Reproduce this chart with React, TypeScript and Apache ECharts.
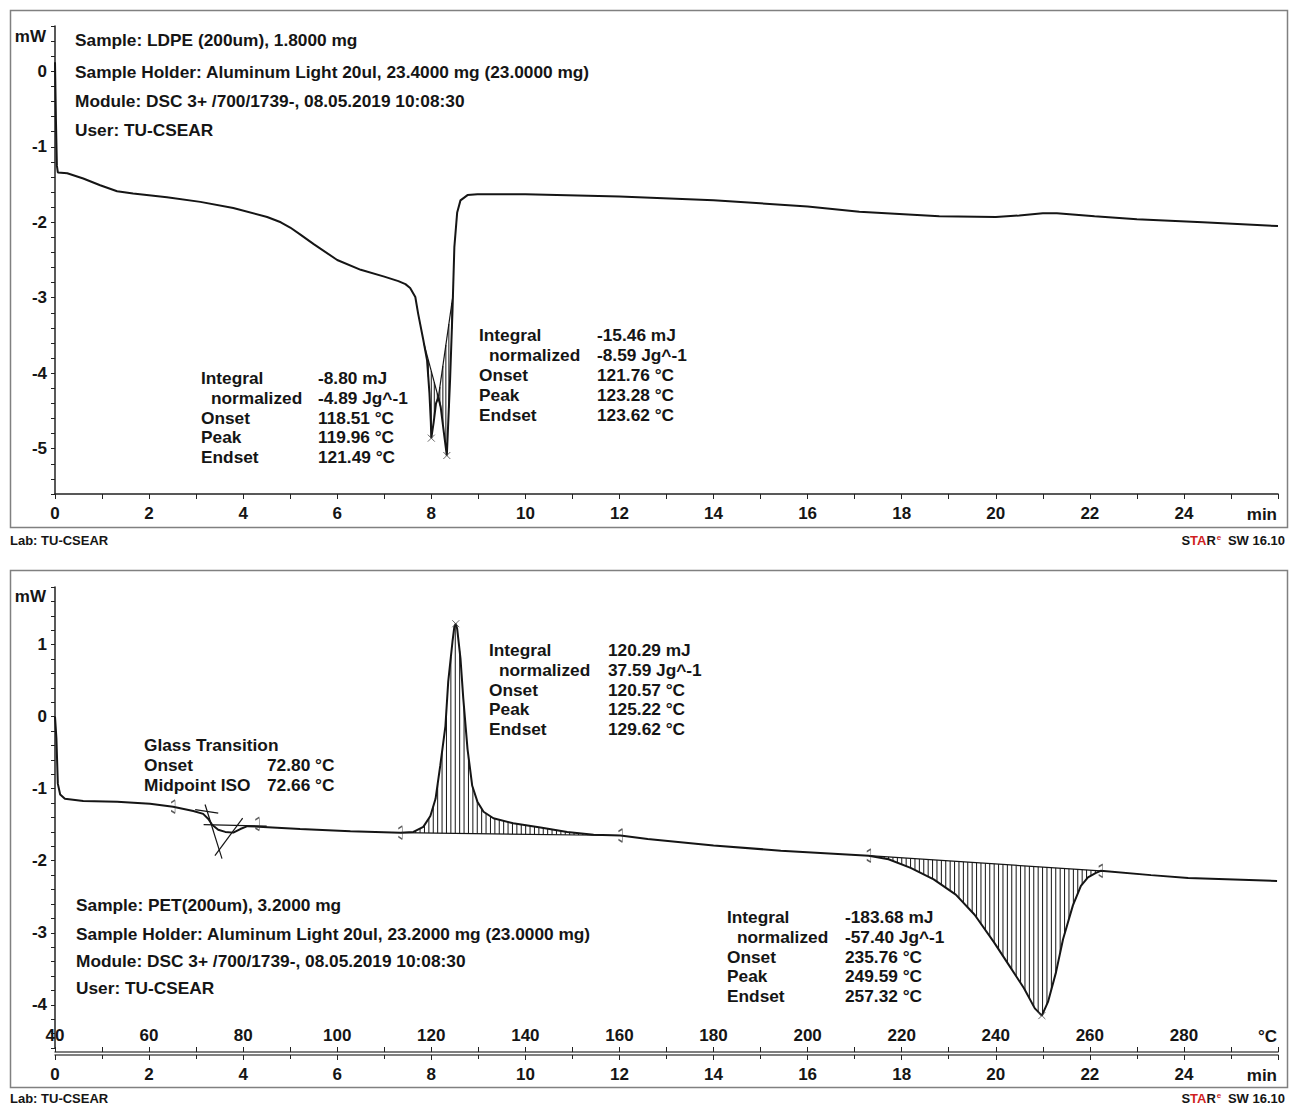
import React, { useEffect, useRef } from "react";
import * as echarts from "echarts";

// ---------- Top panel: LDPE, heat flow (mW) vs time (min) ----------
const ldpeTime = [0, 0.02, 0.04, 0.06, 0.26, 0.6, 0.96, 1.32, 1.66, 2.38, 3.09, 3.79, 4.51, 4.8, 5.0, 5.21, 5.5, 6.0, 6.5, 7.0, 7.3, 7.45, 7.55, 7.66, 7.72, 7.83, 7.91, 7.96, 7.99, 8.0, 8.05, 8.1, 8.15, 8.2, 8.27, 8.33, 8.4, 8.45, 8.49, 8.55, 8.62, 8.77, 8.98, 10, 12, 14, 16, 17.1, 18.8, 20, 20.5, 21, 21.3, 22.1, 23, 24.4, 26];
const ldpeMw = [0.12, -0.65, -1.25, -1.34, -1.35, -1.42, -1.51, -1.59, -1.62, -1.67, -1.73, -1.81, -1.93, -2.0, -2.07, -2.16, -2.29, -2.5, -2.63, -2.72, -2.78, -2.82, -2.87, -2.99, -3.21, -3.56, -3.83, -4.26, -4.65, -4.86, -4.65, -4.4, -4.32, -4.45, -4.8, -5.09, -4.07, -3.18, -2.33, -1.87, -1.71, -1.64, -1.63, -1.63, -1.66, -1.71, -1.79, -1.86, -1.92, -1.93, -1.91, -1.88, -1.88, -1.92, -1.96, -2.0, -2.05];
// integration baselines [t0, y0, t1, y1]
const ldpeBaselines = [
  [7.84, -3.6, 8.2, -4.44],
  [8.15, -4.32, 8.46, -2.97],
];
const ldpePeaks = [[8.0, -4.86], [8.33, -5.09]];

// ---------- Bottom panel: PET, heat flow (mW) vs temperature (°C) ----------
const petTemp = [40.0, 40.3, 40.6, 41.1, 42.1, 46.0, 53.2, 60.2, 65.1, 69.4, 71.5, 72.6, 73.4, 74.7, 76.2, 77.9, 79.4, 80.9, 92.1, 102.8, 113.4, 116.2, 118.3, 119.8, 120.9, 121.9, 123.0, 123.6, 124.5, 124.9, 125.2, 125.5, 126.2, 126.8, 127.7, 128.7, 129.8, 131.1, 133.2, 137.4, 143.2, 148.9, 154.5, 160.2, 166.0, 180.0, 194.3, 213.0, 217.2, 221.9, 226.8, 231.5, 235.5, 239.6, 242.8, 246.0, 248.3, 249.8, 251.1, 252.8, 254.3, 256.4, 258.1, 259.6, 261.3, 262.3, 273.0, 280.9, 299.8];
const petMw = [0, -0.3, -0.93, -1.08, -1.14, -1.17, -1.18, -1.21, -1.25, -1.31, -1.35, -1.42, -1.5, -1.57, -1.6, -1.61, -1.56, -1.52, -1.56, -1.59, -1.61, -1.6, -1.53, -1.38, -1.14, -0.68, -0.13, 0.49, 1.04, 1.25, 1.29, 1.22, 0.81, 0.25, -0.45, -0.96, -1.18, -1.32, -1.41, -1.48, -1.54, -1.6, -1.64, -1.65, -1.7, -1.79, -1.86, -1.93, -1.98, -2.1, -2.26, -2.47, -2.75, -3.13, -3.45, -3.77, -4.05, -4.15, -3.96, -3.55, -3.09, -2.62, -2.35, -2.23, -2.17, -2.14, -2.2, -2.24, -2.28];
const petBaselines = [
  [113.4, -1.61, 160.2, -1.65],
  [213.0, -1.93, 262.3, -2.14],
];
const petPeaks = [[125.2, 1.29], [249.8, -4.15]];
const petLimits = [[65.1, -1.25], [83.0, -1.49], [113.4, -1.61], [160.2, -1.65], [213.0, -1.93], [262.3, -2.14]];
// glass transition construction lines [T0, y0, T1, y1]
const glassLines = [
  [69.8, -1.29, 74.7, -1.34],
  [71.9, -1.22, 75.5, -1.97],
  [74.0, -1.93, 79.9, -1.41],
  [71.6, -1.5, 85.0, -1.52],
];

// ---------- Texts ----------
const headerTop = [
  "Sample: LDPE (200um), 1.8000 mg",
  "Sample Holder: Aluminum Light 20ul, 23.4000 mg (23.0000 mg)",
  "Module: DSC 3+ /700/1739-, 08.05.2019 10:08:30",
  "User: TU-CSEAR",
];
const headerBottom = [
  "Sample: PET(200um), 3.2000 mg",
  "Sample Holder: Aluminum Light 20ul, 23.2000 mg (23.0000 mg)",
  "Module: DSC 3+ /700/1739-, 08.05.2019 10:08:30",
  "User: TU-CSEAR",
];
const evalLabels = ["Integral", "normalized", "Onset", "Peak", "Endset"];
const evalA = ["-8.80 mJ", "-4.89 Jg^-1", "118.51 °C", "119.96 °C", "121.49 °C"];
const evalB = ["-15.46 mJ", "-8.59 Jg^-1", "121.76 °C", "123.28 °C", "123.62 °C"];
const evalC = ["120.29 mJ", "37.59 Jg^-1", "120.57 °C", "125.22 °C", "129.62 °C"];
const evalD = ["-183.68 mJ", "-57.40 Jg^-1", "235.76 °C", "249.59 °C", "257.32 °C"];
const glassLabels = ["Glass Transition", "Onset", "Midpoint ISO"];
const glassValues = ["", "72.80 °C", "72.66 °C"];

const FF = "'Liberation Sans', Arial, sans-serif";
const INK = "#151515";
const TS = 17.3;

function txt(text: string, x: number, y: number, size = TS, align = "left", weight = "bold", fill = INK) {
  return {
    type: "text",
    x,
    y,
    silent: true,
    style: {
      text,
      font: `${weight} ${size}px ${FF}`,
      fill,
      textAlign: align,
      align,
      textVerticalAlign: "middle",
      verticalAlign: "middle",
    },
  };
}

function evalBlock(values: string[], xl: number, xv: number, y0: number, dy: number) {
  const out: any[] = [];
  evalLabels.forEach((l, i) => {
    out.push(txt(l, i === 1 ? xl + 10 : xl, y0 + i * dy));
    out.push(txt(values[i], xv, y0 + i * dy));
  });
  return out;
}

function hatch(xs: number[], ys: number[], step: number) {
  return (params: any, api: any) => {
    const x0 = api.value(0), b0 = api.value(1), x1 = api.value(2), b1 = api.value(3);
    const pts = xs.map((x, i) => api.coord([x, ys[i]]));
    const p0 = api.coord([x0, b0]);
    const p1 = api.coord([x1, b1]);
    const children: any[] = [];
    for (let px = p0[0] + step / 2; px < p1[0]; px += step) {
      let cy: number | null = null;
      for (let i = 0; i < pts.length - 1; i++) {
        if (pts[i][0] <= px && pts[i + 1][0] >= px) {
          const d = pts[i + 1][0] - pts[i][0] || 1;
          cy = pts[i][1] + ((px - pts[i][0]) / d) * (pts[i + 1][1] - pts[i][1]);
          break;
        }
      }
      const by = p0[1] + ((px - p0[0]) / (p1[0] - p0[0])) * (p1[1] - p0[1]);
      if (cy !== null) {
        children.push({
          type: "line",
          shape: { x1: px, y1: by, x2: px, y2: cy },
          style: { stroke: INK, lineWidth: 1 },
        });
      }
    }
    return { type: "group", children };
  };
}

const axisLineStyle = { show: true, onZero: false, lineStyle: { color: "#222", width: 1.5 } };
const tickStyle = { lineStyle: { color: "#222", width: 1 } };
const labelFont = { fontFamily: FF, fontWeight: "bold", fontSize: 17, color: INK };
const intLabel = (v: number) => (Math.abs(v - Math.round(v)) < 1e-6 ? String(Math.round(v)) : "");

const crossPath = "path://M0,0L10,10M10,0L0,10";
const flagPath = "path://M3,0L3,16M0,3L3,0M0,13L3,16";

function segSeries(segs: number[][], xi: number, yi: number) {
  return segs.map((s) => ({
    type: "line",
    xAxisIndex: xi,
    yAxisIndex: yi,
    data: [[s[0], s[1]], [s[2], s[3]]],
    symbol: "none",
    silent: true,
    lineStyle: { color: INK, width: 1.2 },
    z: 4,
  }));
}

function buildOption() {
  const graphics: any[] = [
    { type: "rect", shape: { x: 10.5, y: 10.5, width: 1277, height: 517 }, style: { fill: "none", stroke: "#808080", lineWidth: 1.5 }, silent: true },
    { type: "rect", shape: { x: 10.5, y: 570.5, width: 1277, height: 517 }, style: { fill: "none", stroke: "#808080", lineWidth: 1.5 }, silent: true },
    txt("mW", 46, 36, 17, "right"),
    txt("mW", 46, 596, 17, "right"),
    txt("min", 1277, 514, 17, "right"),
    txt("min", 1277, 1075, 17, "right"),
    txt("°C", 1277, 1036, 17, "right"),
    txt("Lab: TU-CSEAR", 10, 540, 13, "left"),
    txt("Lab: TU-CSEAR", 10, 1098, 13, "left"),
  ];
  [540, 1098].forEach((y) => {
    graphics.push({
      type: "text",
      x: 1285,
      y,
      silent: true,
      style: {
        text: "{b|S}{r|TA}{b|R}{e|e}{b| SW 16.10}",
        textAlign: "right",
        align: "right",
        textVerticalAlign: "middle",
        verticalAlign: "middle",
        rich: {
          b: { font: `bold 13px ${FF}`, fill: INK },
          r: { font: `bold 13px ${FF}`, fill: "#d01f1f" },
          e: { font: `bold 8px ${FF}`, fill: "#d01f1f", padding: [0, 3, 6, 1] },
        },
      },
    });
  });
  const topY = [40, 72, 101, 130];
  headerTop.forEach((h, i) => graphics.push(txt(h, 75, topY[i])));
  const botY = [905, 934, 961, 988];
  headerBottom.forEach((h, i) => graphics.push(txt(h, 76, botY[i])));
  graphics.push(...evalBlock(evalA, 201, 318, 378, 19.75));
  graphics.push(...evalBlock(evalB, 479, 597, 335, 20));
  graphics.push(...evalBlock(evalC, 489, 608, 650, 19.75));
  graphics.push(...evalBlock(evalD, 727, 845, 917, 19.75));
  glassLabels.forEach((l, i) => {
    graphics.push(txt(l, 144, 745 + i * 20));
    if (glassValues[i]) graphics.push(txt(glassValues[i], 267, 745 + i * 20));
  });

  return {
    animation: false,
    backgroundColor: "#ffffff",
    grid: [
      { left: 55, top: 26, width: 1223, height: 468, outerBoundsMode: "none", containLabel: false },
      { left: 55, top: 587, width: 1223, height: 461, outerBoundsMode: "none", containLabel: false },
    ],
    xAxis: [
      {
        type: "value", gridIndex: 0, position: "bottom", min: 0, max: 26, interval: 2,
        axisLine: axisLineStyle,
        axisTick: { show: true, length: 5, ...tickStyle },
        minorTick: { show: true, splitNumber: 2, length: 5, ...tickStyle },
        axisLabel: { ...labelFont, margin: 11, formatter: (v: number) => (v >= 26 ? "" : String(v)) },
        splitLine: { show: false },
      },
      {
        type: "value", gridIndex: 1, position: "bottom", offset: 7, min: 0, max: 26, interval: 2,
        axisLine: { show: true, onZero: false, lineStyle: { color: "#555", width: 1.5 } },
        axisTick: { show: true, length: 5, ...tickStyle },
        minorTick: { show: true, splitNumber: 2, length: 4, ...tickStyle },
        axisLabel: { ...labelFont, margin: 11, formatter: (v: number) => (v >= 26 ? "" : String(v)) },
        splitLine: { show: false },
      },
      {
        type: "value", gridIndex: 1, position: "bottom", offset: 4, min: 40, max: 300, interval: 20,
        axisLine: { show: true, onZero: false, lineStyle: { color: "#555", width: 1.5 } },
        axisTick: { show: true, inside: true, length: 5, ...tickStyle },
        minorTick: { show: true, splitNumber: 2, length: 5, ...tickStyle },
        axisLabel: { ...labelFont, inside: true, margin: 8, formatter: (v: number) => (v >= 300 ? "" : String(v)) },
        splitLine: { show: false },
      },
    ],
    yAxis: [
      {
        type: "value", gridIndex: 0, min: -5.6, max: 0.6, interval: 0.2,
        axisLine: axisLineStyle,
        axisTick: { show: true, length: 4, ...tickStyle },
        axisLabel: { ...labelFont, margin: 8, formatter: intLabel },
        splitLine: { show: false },
      },
      {
        type: "value", gridIndex: 1, min: -4.6, max: 1.8, interval: 0.2,
        axisLine: axisLineStyle,
        axisTick: { show: true, length: 4, ...tickStyle },
        axisLabel: { ...labelFont, margin: 8, formatter: intLabel },
        splitLine: { show: false },
      },
    ],
    series: [
      {
        type: "custom", xAxisIndex: 0, yAxisIndex: 0, silent: true, z: 3,
        data: ldpeBaselines, encode: { x: [0, 2], y: [1, 3] },
        renderItem: hatch(ldpeTime, ldpeMw, 3),
      },
      ...segSeries(ldpeBaselines, 0, 0),
      {
        type: "line", xAxisIndex: 0, yAxisIndex: 0, symbol: "none", silent: true, z: 5,
        data: ldpeTime.map((t, i) => [t, ldpeMw[i]]),
        lineStyle: { color: INK, width: 2 },
      },
      {
        type: "scatter", xAxisIndex: 0, yAxisIndex: 0, silent: true, z: 6,
        data: ldpePeaks, symbol: crossPath, symbolSize: 7,
        itemStyle: { color: "transparent", borderColor: "#444", borderWidth: 1 },
      },
      {
        type: "custom", xAxisIndex: 2, yAxisIndex: 1, silent: true, z: 3,
        data: petBaselines, encode: { x: [0, 2], y: [1, 3] },
        renderItem: hatch(petTemp, petMw, 4.4),
      },
      ...segSeries(petBaselines, 2, 1),
      ...segSeries(glassLines, 2, 1),
      {
        type: "line", xAxisIndex: 2, yAxisIndex: 1, symbol: "none", silent: true, z: 5,
        data: petTemp.map((t, i) => [t, petMw[i]]),
        lineStyle: { color: INK, width: 2 },
      },
      {
        type: "scatter", xAxisIndex: 2, yAxisIndex: 1, silent: true, z: 6,
        data: petPeaks, symbol: crossPath, symbolSize: 7,
        itemStyle: { color: "transparent", borderColor: "#444", borderWidth: 1 },
      },
      {
        type: "scatter", xAxisIndex: 2, yAxisIndex: 1, silent: true, z: 6,
        data: petLimits, symbol: flagPath, symbolSize: [4, 13],
        itemStyle: { color: "transparent", borderColor: "#333", borderWidth: 1 },
      },
    ],
    graphic: graphics,
  };
}

export default function App() {
  const ref = useRef<HTMLDivElement>(null);
  useEffect(() => {
    document.body.style.margin = "0";
    const chart = echarts.init(ref.current!, null, { renderer: "svg" });
    chart.setOption(buildOption() as any);
    return () => chart.dispose();
  }, []);
  return <div ref={ref} style={{ width: 1290, height: 1107 }} />;
}
